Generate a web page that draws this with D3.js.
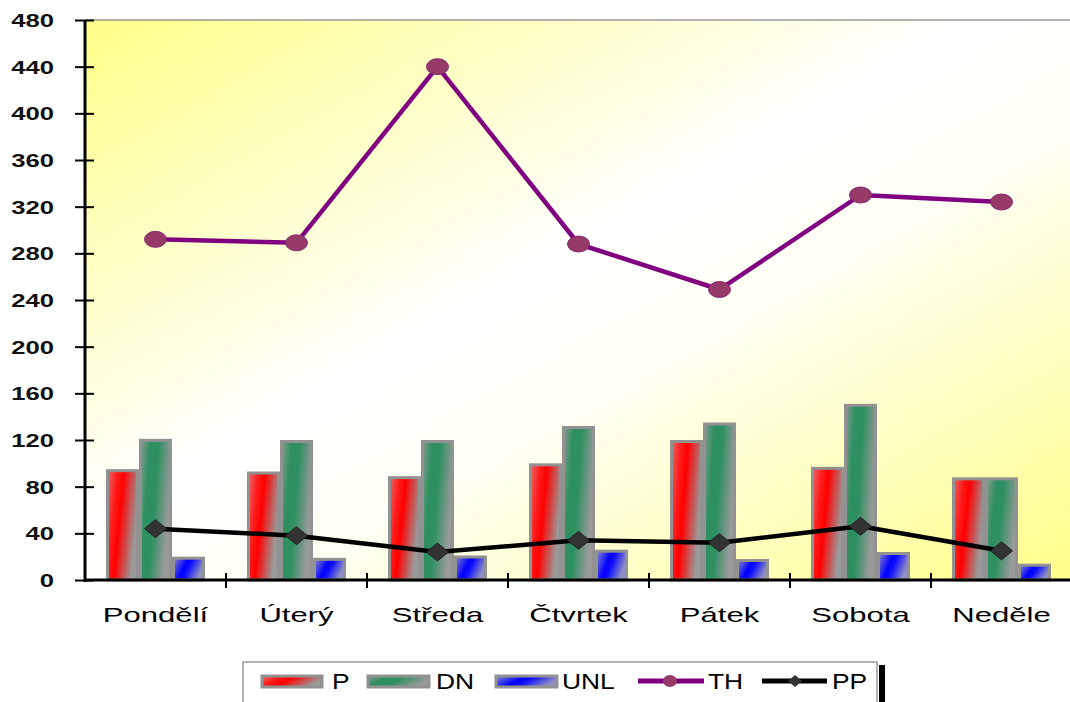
<!DOCTYPE html>
<html>
<head>
<meta charset="utf-8">
<script src="https://cdn.jsdelivr.net/npm/d3@7/dist/d3.min.js"></script>
<style>
html,body{margin:0;padding:0;background:#fff;}
svg{display:block;}
text{font-family:"Liberation Sans",Arial,sans-serif;}
</style>
</head>
<body>
<svg id="chart" width="1070" height="702"></svg>
<script>
const categories = ["Pondělí","Úterý","Středa","Čtvrtek","Pátek","Sobota","Neděle"];
const seriesP   = [95, 93, 89, 100, 120, 97, 88];
const seriesDN  = [121, 120, 120, 132, 135, 151, 88];
const seriesUNL = [20, 19, 21, 26, 18, 24, 14];
const seriesTH  = [292, 289, 440, 288, 249, 330, 324];
const seriesPP  = [44, 38, 24, 34, 32, 46, 25];
const yTicks = [0,40,80,120,160,200,240,280,320,360,400,440,480];
const barSeries = ["P","DN","UNL"];
const legendLabels = ["P","DN","UNL","TH","PP"];

(function(){
const svg = d3.select("#chart");
const W = 1070;
const pL = 85, pR = 1072, pT = 20, pB = 580;

const x = d3.scaleBand().domain(categories).range([pL, pR]).padding(0);
const xi = d3.scaleBand().domain(barSeries).range([21, 120]).padding(0);
const y = d3.scaleLinear().domain([0, 480]).range([pB, pT]);

const defs = svg.append("defs");
const bg = defs.append("linearGradient").attr("id","bg")
  .attr("x1","0").attr("y1","0").attr("x2","1").attr("y2","1");
bg.append("stop").attr("offset","0").attr("stop-color","#ffff88");
bg.append("stop").attr("offset","0.45").attr("stop-color","#ffffff");
bg.append("stop").attr("offset","0.6").attr("stop-color","#fffff4");
bg.append("stop").attr("offset","1").attr("stop-color","#ffff88");

function mkGrad(id, stops){
  const g = defs.append("linearGradient").attr("id",id)
    .attr("x1","0").attr("y1","0").attr("x2","1").attr("y2","0.35");
  stops.forEach(s => g.append("stop").attr("offset",s[0]).attr("stop-color",s[1]));
}
mkGrad("gP", [[0,"#e86a6a"],[0.3,"#ff1a1a"],[0.5,"#ff0000"],[1,"#9a9a9a"]]);
mkGrad("gDN", [[0,"#8a9a90"],[0.3,"#2e9060"],[0.55,"#2e9060"],[1,"#9a9a9a"]]);
mkGrad("gUNL", [[0,"#8c8cc8"],[0.45,"#0000ff"],[0.6,"#1010ff"],[1,"#8f8fc4"]]);
const gradId = {P:"gP", DN:"gDN", UNL:"gUNL"};

svg.append("rect").attr("x",pL).attr("y",pT).attr("width",pR-pL).attr("height",pB-pT)
  .attr("fill","url(#bg)");
svg.append("line").attr("x1",pL).attr("x2",pR).attr("y1",pT).attr("y2",pT)
  .attr("stroke","#999").attr("stroke-width",1.5);

const barData = categories.map((c,i)=>({c, P:seriesP[i], DN:seriesDN[i], UNL:seriesUNL[i]}));
const groups = svg.append("g").selectAll("g").data(barData).join("g")
  .attr("transform", d=>`translate(${x(d.c)},0)`);
groups.selectAll("rect").data(d=>barSeries.map(k=>({k, v:d[k]}))).join("rect")
  .attr("x", d=>xi(d.k)+1.5)
  .attr("width", xi.bandwidth()-3)
  .attr("y", d=>y(d.v)+1.5)
  .attr("height", d=>y(0)-y(d.v)-1.5)
  .attr("fill", d=>`url(#${gradId[d.k]})`)
  .attr("stroke","#929292").attr("stroke-width",3);

const cx = c => x(c) + x.bandwidth()/2;
const lineGen = d3.line().x(d=>cx(d.c)).y(d=>y(d.v));
const thData = categories.map((c,i)=>({c, v:seriesTH[i]}));
const ppData = categories.map((c,i)=>({c, v:seriesPP[i]}));

svg.append("path").datum(thData).attr("d",lineGen).attr("fill","none")
  .attr("stroke","#800080").attr("stroke-width",4.5).attr("stroke-linejoin","round");
svg.append("g").selectAll("ellipse").data(thData).join("ellipse")
  .attr("cx",d=>cx(d.c)).attr("cy",d=>y(d.v)).attr("rx",11).attr("ry",8)
  .attr("fill","#963a68").attr("stroke","#862a70").attr("stroke-width",1);

svg.append("path").datum(ppData).attr("d",lineGen).attr("fill","none")
  .attr("stroke","#000").attr("stroke-width",4.5).attr("stroke-linejoin","round");
const diamond = "M-11,0 L0,-9 L11,0 L0,9 Z";
svg.append("g").selectAll("path").data(ppData).join("path")
  .attr("d",diamond).attr("transform",d=>`translate(${cx(d.c)},${y(d.v)})`)
  .attr("fill","#333").attr("stroke","#222").attr("stroke-width",1);

const yAxis = d3.axisLeft(y).tickValues(yTicks).tickSize(10).tickFormat("");
const yg = svg.append("g").attr("transform",`translate(${pL},0)`).call(yAxis);
yg.select(".domain").remove();
yg.selectAll(".tick line").attr("x1",-10).attr("x2",9).attr("stroke","#000").attr("stroke-width",2);
svg.append("line").attr("x1",pL).attr("x2",pL).attr("y1",pT).attr("y2",pB+2)
  .attr("stroke","#000").attr("stroke-width",3);
svg.append("g").selectAll("text").data(yTicks).join("text")
  .attr("transform",d=>`translate(54,${y(d)+7}) scale(1.35,1)`)
  .attr("text-anchor","end").attr("font-size",19).attr("font-weight","bold")
  .attr("fill","#111").text(d=>d);

svg.append("line").attr("x1",pL-1).attr("x2",W).attr("y1",pB).attr("y2",pB)
  .attr("stroke","#000").attr("stroke-width",3);
svg.append("g").selectAll("line").data(categories.slice(1)).join("line")
  .attr("x1",d=>x(d)).attr("x2",d=>x(d)).attr("y1",pB-7).attr("y2",pB+8)
  .attr("stroke","#000").attr("stroke-width",2);
svg.append("g").selectAll("text").data(categories).join("text")
  .attr("transform",d=>`translate(${cx(d)},622) scale(1.48,1)`)
  .attr("text-anchor","middle").attr("font-size",21).attr("fill","#000").text(d=>d);

const lg = svg.append("g");
lg.append("rect").attr("x",243).attr("y",662).attr("width",634).attr("height",60)
  .attr("fill","#fff").attr("stroke","#9a9a9a").attr("stroke-width",1.5);
lg.append("rect").attr("x",879).attr("y",665).attr("width",6).attr("height",40).attr("fill","#000");
const swatches = [
  {k:"P", x0:262, x1:322},
  {k:"DN", x0:368, x1:429},
  {k:"UNL", x0:496, x1:557}
];
swatches.forEach(s=>{
  lg.append("rect").attr("x",s.x0).attr("y",676).attr("width",s.x1-s.x0).attr("height",11)
    .attr("fill",`url(#${gradId[s.k]})`).attr("stroke","#929292").attr("stroke-width",3);
});
lg.append("line").attr("x1",638).attr("x2",704).attr("y1",681).attr("y2",681)
  .attr("stroke","#800080").attr("stroke-width",5);
lg.append("ellipse").attr("cx",670).attr("cy",681).attr("rx",7).attr("ry",6).attr("fill","#963a68");
lg.append("line").attr("x1",762).attr("x2",827).attr("y1",681).attr("y2",681)
  .attr("stroke","#000").attr("stroke-width",5);
lg.append("path").attr("d","M-7,0 L0,-6 L7,0 L0,6 Z").attr("transform","translate(795,681)").attr("fill","#333");
const legTextX = [332, 436, 562, 708, 832];
lg.selectAll("text.lt").data(legendLabels).join("text").attr("class","lt")
  .attr("transform",(d,i)=>`translate(${legTextX[i]},689) scale(1.2,1)`)
  .attr("font-size",22).attr("fill","#000").text(d=>d);
})();
</script>
</body>
</html>
